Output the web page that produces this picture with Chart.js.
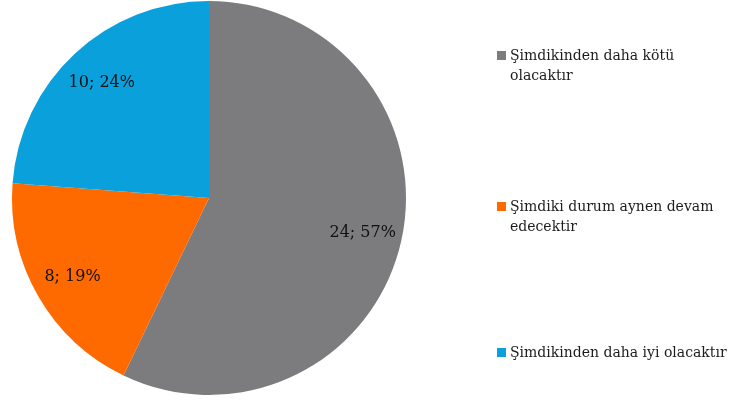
<!DOCTYPE html>
<html lang="tr">
<head>
<meta charset="utf-8">
<title>Gelecek beklentisi</title>
<script src="https://cdn.jsdelivr.net/npm/chart.js@4/dist/chart.umd.min.js"></script>
<style>
  html, body { margin: 0; padding: 0; background: #ffffff; }
  #wrap { position: relative; width: 732px; height: 401px; overflow: hidden; }
  #pie { position: absolute; left: 0; top: 0; }
  #legend { position: absolute; left: 497px; top: 0; width: 235px; height: 401px; margin: 0; padding: 0; list-style: none;
            font-family: "DejaVu Serif", Georgia, serif; font-size: 14px; line-height: 20px; color: #1c1c1c; }
  #legend li { position: absolute; left: 0; padding-left: 13px; white-space: nowrap; }
  #legend li span.sw { position: absolute; left: 0; top: 6px; width: 9px; height: 9px; }
</style>
</head>
<body>
<div id="wrap">
  <canvas id="pie" width="732" height="401"></canvas>
  <ul id="legend"></ul>
</div>
<script>
// Answer categories (each entry split into its display lines)
const categories = [
  ["Şimdikinden daha kötü", "olacaktır"],
  ["Şimdiki durum aynen devam", "edecektir"],
  ["Şimdikinden daha iyi olacaktır"]
];
// Number of responses per category
const counts = [24, 8, 10];
// Percent shares shown next to the counts
const percents = [57, 19, 24];
// Slice colours
const sliceColors = ["#7c7c7e", "#fe6a00", "#0aa0dc"];

// Legend entries, stacked down the right side
const legendTops = [45, 196, 342];
const legendEl = document.getElementById("legend");
categories.forEach((lines, i) => {
  const li = document.createElement("li");
  li.style.top = legendTops[i] + "px";
  const sw = document.createElement("span");
  sw.className = "sw";
  sw.style.background = sliceColors[i];
  li.appendChild(sw);
  lines.forEach((ln, k) => {
    if (k) li.appendChild(document.createElement("br"));
    li.appendChild(document.createTextNode(ln));
  });
  legendEl.appendChild(li);
});

// Writes "count; percent%" inside each slice
const sliceLabels = {
  id: "sliceLabels",
  afterDatasetsDraw(chart) {
    const ctx = chart.ctx;
    const meta = chart.getDatasetMeta(0);
    ctx.save();
    ctx.font = '16px "DejaVu Serif", Georgia, serif';
    ctx.fillStyle = "#111111";
    ctx.textAlign = "center";
    ctx.textBaseline = "middle";
    meta.data.forEach((arc, i) => {
      const p = arc.getProps(["x", "y", "startAngle", "endAngle", "outerRadius"], true);
      const mid = (p.startAngle + p.endAngle) / 2;
      const r = p.outerRadius * 0.8;
      ctx.fillText(counts[i] + "; " + percents[i] + "%", p.x + Math.cos(mid) * r, p.y + Math.sin(mid) * r);
    });
    ctx.restore();
  }
};

new Chart(document.getElementById("pie"), {
  type: "pie",
  data: {
    labels: categories,
    datasets: [{
      data: counts,
      backgroundColor: sliceColors,
      borderWidth: 0,
      hoverBorderWidth: 0,
      hoverOffset: 0,
      offset: 0
    }]
  },
  options: {
    responsive: false,
    animation: false,
    events: [],
    layout: { padding: { left: 12, right: 326, top: 0, bottom: 5 } },
    plugins: {
      legend: { display: false },
      tooltip: { enabled: false }
    }
  },
  plugins: [sliceLabels]
});
</script>
</body>
</html>
